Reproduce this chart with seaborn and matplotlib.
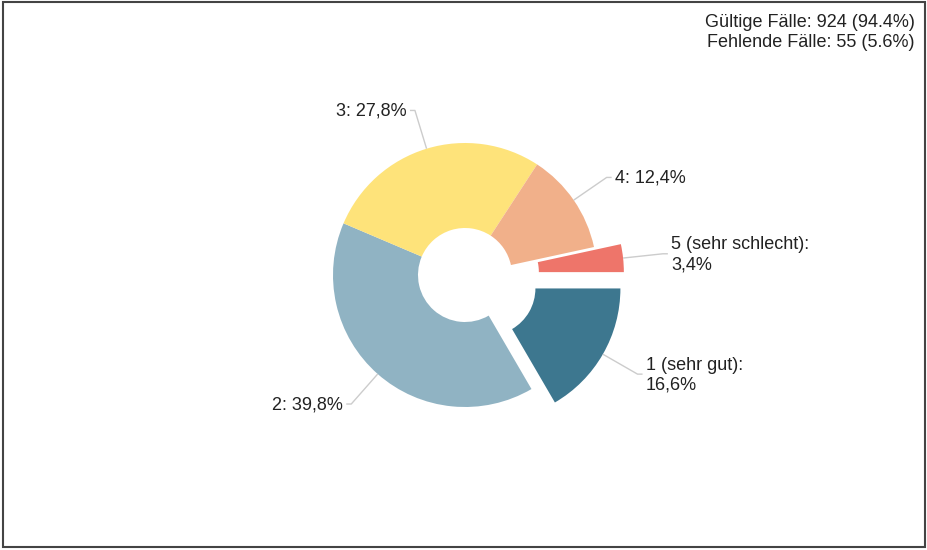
import numpy as np
import matplotlib
matplotlib.use("Agg")
import matplotlib.pyplot as plt
import seaborn as sns

# values
categories = ["1 (sehr gut)", "2", "3", "4", "5 (sehr schlecht)"]
shares = [16.6, 39.8, 27.8, 12.4, 3.4]
colors = ["#3d778f", "#90b3c3", "#fee37a", "#f1b08a", "#ee756a"]
explode_px = [27, 0, 0, 0, 27]
valid_cases = 924
missing_cases = 55

sns.set_theme(style="white")
plt.rcParams["font.family"] = ["Liberation Sans", "DejaVu Sans"]

W, H = 927, 550
fig = plt.figure(figsize=(W / 100, H / 100), dpi=100)
ax = fig.add_axes([0, 0, 1, 1])

cx, cy = 465, 275
R = 132
inner = 47

# explode in matplotlib is an absolute offset in data units here
wedges, _ = ax.pie(shares, colors=colors, startangle=0, counterclock=False,
                   radius=R, center=(cx, cy), explode=explode_px,
                   wedgeprops=dict(width=R - inner, linewidth=0),
                   frame=True)
ax.set_xlim(0, W)
ax.set_ylim(0, H)
ax.set_aspect("equal")
ax.axis("off")

# leader lines + labels
for w, cat, val in zip(wedges, categories, shares):
    mid = np.deg2rad((w.theta1 + w.theta2) / 2)
    wx, wy = w.center
    p0 = (wx + R * np.cos(mid), wy + R * np.sin(mid))
    p1 = (wx + (R + 40) * np.cos(mid), wy + (R + 40) * np.sin(mid))
    right = np.cos(mid) > 0
    p2 = (p1[0] + (5 if right else -5), p1[1])
    ax.plot([p0[0], p1[0], p2[0]], [p0[1], p1[1], p2[1]],
            color="#cccccc", lw=1, solid_capstyle="butt")
    pct = f"{val:.1f}%".replace(".", ",")
    if "(" in cat:
        txt = f"{cat}:\n{pct}"
    else:
        txt = f"{cat}: {pct}"
    ax.text(p2[0] + (3 if right else -3), p2[1] - 1, txt,
            ha="left" if right else "right", va="center",
            fontsize=13, color="#222222", linespacing=1.25)

total = valid_cases + missing_cases
ax.text(915, H - 14, f"Gültige Fälle: {valid_cases} ({valid_cases / total * 100:.1f}%)\n"
        f"Fehlende Fälle: {missing_cases} ({missing_cases / total * 100:.1f}%)",
        ha="right", va="top", fontsize=13, color="#222222", linespacing=1.25)

# outer frame
fig.patches.append(plt.Rectangle((2.5 / W, 3 / H), (W - 5) / W, (H - 5) / H,
                                 transform=fig.transFigure, fill=False,
                                 edgecolor="#444444", lw=1.5))

fig.savefig("out.png", dpi=100)
